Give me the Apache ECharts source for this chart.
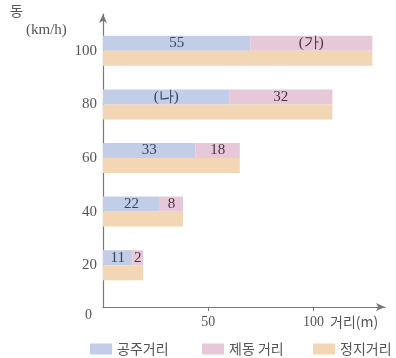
<!DOCTYPE html>
<html><head><meta charset="utf-8">
<script src="https://cdn.jsdelivr.net/npm/echarts@6/dist/echarts.min.js"></script>
<style>html,body{margin:0;padding:0;background:#fff}#c{width:396px;height:358px}</style>
</head><body><div id="c"></div>
<script>
const speeds = ['20', '40', '60', '80', '100'];
const reactionLen = [14, 27, 44, 60, 70];
const brakingLen = [5, 11, 21, 49, 58];
const stoppingLen = [19, 38, 65, 109, 128];
const reactionLabels = ['11', '22', '33', '(나)', '55'];
const brakingLabels = ['2', '8', '18', '32', '(가)'];
const xTicks = [50, 100];

const serif = '"Liberation Serif", "DejaVu Serif", serif';
const kor = '"Noto Sans CJK KR", sans-serif';
const cBlue = '#c2cde8', cPink = '#e6c8d8', cOrange = '#f3d6b4';

const chart = echarts.init(document.getElementById('c'));
const legendBase = {top: 337, itemWidth: 22, itemHeight: 11, icon: 'rect',
  textStyle: {fontFamily: kor, fontSize: 14, color: '#555'}, itemGap: 0};
chart.setOption({
  animation: false,
  grid: [
    {left: 103, right: 11, top: 24, bottom: 66},
    {left: 103, right: 11, top: 14, bottom: 51}
  ],
  xAxis: [
    {gridIndex: 0, type: 'value', min: 0, max: 134, show: false},
    {gridIndex: 1, type: 'value', min: 0, max: 134, interval: 50,
     axisLine: {show: true, lineStyle: {color: '#777', width: 1.2}, symbol: ['none', 'arrow'], symbolSize: [6, 9]},
     axisTick: {show: true, length: 4, lineStyle: {color: '#777'},
       customValues: xTicks},
     axisLabel: {color: '#555', fontFamily: serif, fontSize: 14, margin: 8,
       customValues: xTicks, formatter: v => xTicks.includes(v) ? String(v) : ''},
     splitLine: {show: false}}
  ],
  yAxis: [
    {gridIndex: 0, type: 'category', data: speeds,
     axisLine: {show: false}, axisTick: {show: false},
     axisLabel: {color: '#555', fontFamily: serif, fontSize: 15, margin: 6}},
    {gridIndex: 1, type: 'value', min: 0, max: 1,
     axisLine: {show: true, lineStyle: {color: '#777', width: 1.2}, symbol: ['none', 'arrow'], symbolSize: [6, 9]},
     axisTick: {show: false}, axisLabel: {show: false}, splitLine: {show: false}}
  ],
  legend: [
    Object.assign({}, legendBase, {left: 85, data: ['공주거리']}),
    Object.assign({}, legendBase, {left: 197, data: ['제동 거리']}),
    Object.assign({}, legendBase, {left: 308, data: ['정지거리']})
  ],
  series: [
    {name: '공주거리', type: 'bar', stack: 'a', xAxisIndex: 0, yAxisIndex: 0, data: reactionLen,
     barWidth: 15, barGap: '0%', itemStyle: {color: cBlue},
     label: {show: true, position: 'inside', color: '#3b4262', fontFamily: serif, fontSize: 15,
       formatter: p => reactionLabels[p.dataIndex]}},
    {name: '제동 거리', type: 'bar', stack: 'a', xAxisIndex: 0, yAxisIndex: 0, data: brakingLen,
     barWidth: 15, barGap: '0%', itemStyle: {color: cPink},
     label: {show: true, position: 'inside', color: '#4a3440', fontFamily: serif, fontSize: 15,
       formatter: p => brakingLabels[p.dataIndex]}},
    {name: '정지거리', type: 'bar', xAxisIndex: 0, yAxisIndex: 0, data: stoppingLen,
     barWidth: 15, barGap: '0%', itemStyle: {color: cOrange}}
  ],
  graphic: [
    {type: 'text', left: 10, top: 4, style: {text: '동', fontFamily: kor, fontSize: 14, fill: '#555'}},
    {type: 'text', left: 26, top: 23, style: {text: '(km/h)', fontFamily: serif, fontSize: 15, fill: '#555'}},
    {type: 'text', left: 85, top: 308, style: {text: '0', fontFamily: serif, fontSize: 14, fill: '#555'}},
    {type: 'text', left: 330, top: 315, style: {text: '거리(m)', fontFamily: kor, fontSize: 14, fill: '#555'}}
  ]
});
</script></body></html>
